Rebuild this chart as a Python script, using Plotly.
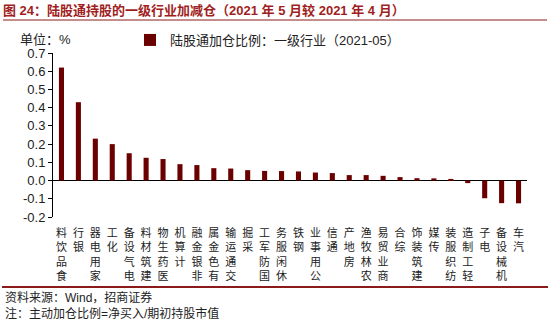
import plotly.graph_objects as go

categories = ["食品饮料", "银行", "家用电器", "化工", "电气设备", "建筑材料", "医药生物",
              "计算机", "非银金融", "有色金属", "交通运输", "采掘", "国防军工", "休闲服务",
              "钢铁", "公用事业", "通信", "房地产", "农林牧渔", "商业贸易", "综合",
              "建筑装饰", "传媒", "纺织服装", "轻工制造", "电子", "机械设备", "汽车"]
values = [0.62, 0.43, 0.23, 0.20, 0.15, 0.125, 0.118, 0.09, 0.085, 0.068, 0.066, 0.057,
          0.053, 0.052, 0.05, 0.044, 0.041, 0.03, 0.03, 0.026, 0.019, 0.013, 0.012,
          0.009, -0.014, -0.097, -0.124, -0.125]
y_tickvals = [0.7, 0.6, 0.5, 0.4, 0.3, 0.2, 0.1, 0.0, -0.1, -0.2]
y_ticktext = ["0.7", "0.6", "0.5", "0.4", "0.3", "0.2", "0.1", "0.0", "-0.1", "-0.2"]
series_name = "陆股通加仓比例：一级行业（2021-05）"
title_text = "<b>图 24：陆股通持股的一级行业加减仓（2021 年 5 月较 2021 年 4 月）</b>"
source_text = "资料来源：Wind，招商证券"
note_text = "注：主动加仓比例=净买入/期初持股市值"

# vertical labels: upright characters reading bottom-to-top
x_ticktext = ["<br>".join(reversed(c)) for c in categories]

FONT = "Liberation Sans, Arial, Noto Sans CJK SC"
BAR = "#6B0000"
RED = "#A01E22"

W, H = 550, 322
L, R, T, B = 53, 23, 53, 105
pw, ph = W - L - R, H - T - B


def px_x(px):
    return (px - L) / pw


def px_y(py):
    return (H - B - py) / ph


fig = go.Figure()
fig.add_trace(go.Bar(
    x=categories, y=values, name=series_name,
    marker=dict(color=BAR, line=dict(width=0)),
    showlegend=True,
))

fig.update_layout(
    width=W, height=H,
    margin=dict(l=L, r=R, t=T, b=B, pad=0),
    paper_bgcolor="white", plot_bgcolor="white",
    font=dict(family=FONT, color="#000000", size=12),
    bargap=0.7,
    showlegend=True,
    legend=dict(x=px_x(130), y=px_y(40), xanchor="left", yanchor="middle",
                orientation="h", font=dict(size=13, color="#222222"),
                bgcolor="rgba(0,0,0,0)", itemwidth=30, tracegroupgap=0),
    title=dict(text=title_text, x=3 / W, xanchor="left", xref="container",
               y=1 - 10 / H, yanchor="middle", yref="container",
               font=dict(size=13, color=RED, family=FONT)),
    xaxis=dict(
        type="category", categoryorder="array", categoryarray=categories,
        tickmode="array", tickvals=categories, ticktext=x_ticktext,
        tickangle=0, showline=False, showgrid=False, zeroline=False,
        ticks="", tickfont=dict(size=11, color="#222222", family=FONT),
        ticklabelstandoff=8,
    ),
    yaxis=dict(
        range=[-0.2, 0.7], tickmode="array", tickvals=y_tickvals, ticktext=y_ticktext,
        showline=True, linecolor="#000000", linewidth=1,
        ticks="outside", ticklen=4, tickcolor="#000000", tickwidth=1,
        showgrid=False, zeroline=True, zerolinecolor="#000000", zerolinewidth=1,
        tickfont=dict(size=13, color="#222222", family=FONT),
    ),
)

# header and footer rules
fig.add_shape(type="line", xref="paper", yref="paper",
              x0=px_x(3), x1=px_x(547), y0=px_y(20), y1=px_y(20),
              line=dict(color="#8B1A1A", width=1))
fig.add_shape(type="line", xref="paper", yref="paper",
              x0=px_x(2), x1=px_x(548), y0=px_y(287), y1=px_y(287),
              line=dict(color="#8B1A1A", width=2))

fig.add_annotation(text="单位：%", xref="paper", yref="paper",
                   x=px_x(18), y=px_y(40), xanchor="left", yanchor="middle",
                   showarrow=False, font=dict(size=13, color="#222222"))
fig.add_annotation(text=source_text, xref="paper", yref="paper",
                   x=px_x(3), y=px_y(297), xanchor="left", yanchor="middle",
                   showarrow=False, font=dict(size=12, color="#222222"))
fig.add_annotation(text=note_text, xref="paper", yref="paper",
                   x=px_x(3), y=px_y(313), xanchor="left", yanchor="middle",
                   showarrow=False, font=dict(size=12, color="#222222"))

fig.write_html("out.html")
